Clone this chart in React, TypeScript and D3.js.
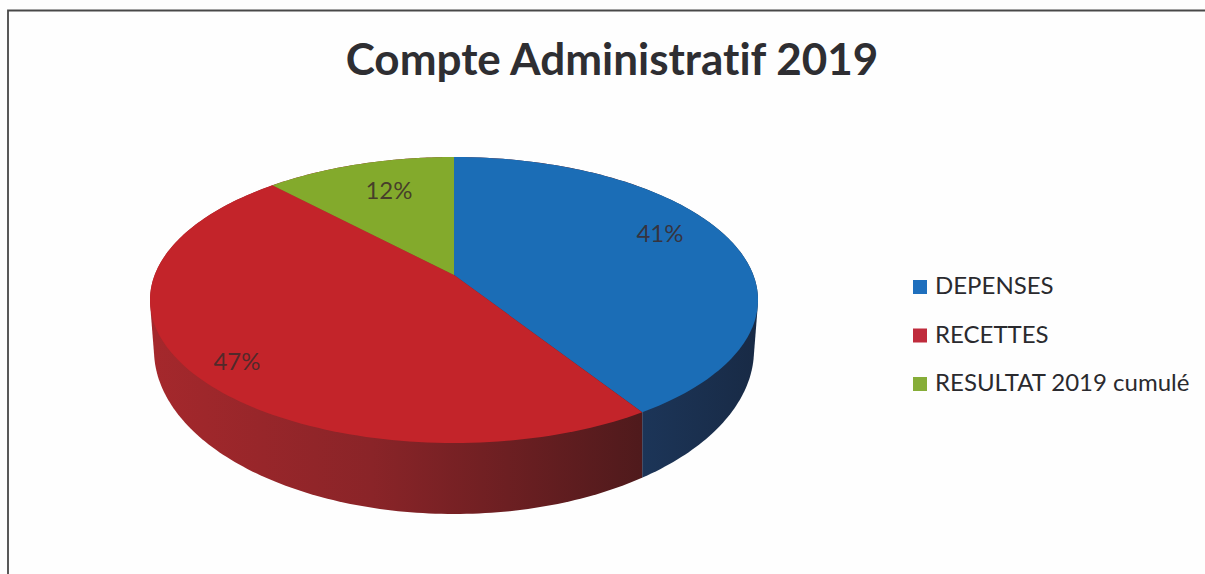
import React from "react";
import * as d3 from "d3";

const title = "Compte Administratif 2019";
const categories = ["DEPENSES", "RECETTES", "RESULTAT 2019 cumulé"];
const shares = [41, 47, 12];
const topColors = ["#1b6db6", "#c3242a", "#83aa2c"];
const legendColors = ["#1f6fbd", "#bf2b3c", "#86ad38"];
const blueSide = ["#1c3558", "#182a45"];
const redSide = ["#a5282c", "#8a2428", "#4f1a1c"];
const labelCentres: [number, number][] = [[660, 232], [237, 360], [389, 189]];

const W = 1205;
const H = 574;
const K = -0.175;
const TILT = 1 - K * K;

// Perspective circle: ellipse centre, radii → projected point for a pie angle
function projector(cx: number, cy: number, rx: number, ry: number) {
  const a = rx * Math.sqrt(TILT);
  const b = ry * TILT;
  const apexY = cy - (-b * K) / TILT;
  return (theta: number): [number, number] => {
    const u = Math.sin(theta);
    const v = -Math.cos(theta);
    const w = 1 + K * v;
    return [cx + (a * u) / w, apexY + (b * v) / w];
  };
}

const topRim = projector(454, 300, 304, 143);
const bottomRim = projector(454, 350, 300, 164);
const TAU = Math.PI * 2;
const line = d3.line();

export default function App() {
  const arcs = d3.pie<number>().sort(null).value((d) => d)(shares);
  const centre: [number, number] = [454, 275];
  const sweep = (t0: number, t1: number) => d3.range(0, 121).map((i) => topRim(t0 + ((t1 - t0) * i) / 120));

  const circlePts = d3.range(0, 360).map((d) => (d / 360) * TAU);
  const hull = d3.polygonHull([...circlePts.map(topRim), ...circlePts.map(bottomRim)]) as [number, number][];
  const hullPath = line(hull) + "Z";
  const edgeX = topRim(arcs[0].endAngle)[0];

  const fontFamily = "Lato, 'Open Sans', sans-serif";
  return (
    <svg width={W} height={H} viewBox={`0 0 ${W} ${H}`} style={{ position: "absolute", left: 0, top: 0, background: "#fefefe", fontVariantLigatures: "none" }}>
      <defs>
        <linearGradient id="side0" gradientUnits="userSpaceOnUse" x1={edgeX} x2={758} y1={0} y2={0}>
          <stop offset="0" stopColor={blueSide[0]} />
          <stop offset="1" stopColor={blueSide[1]} />
        </linearGradient>
        <linearGradient id="side1" gradientUnits="userSpaceOnUse" x1={150} x2={edgeX} y1={0} y2={0}>
          <stop offset="0" stopColor={redSide[0]} />
          <stop offset="0.45" stopColor={redSide[1]} />
          <stop offset="1" stopColor={redSide[2]} />
        </linearGradient>
        <clipPath id="clip0"><rect x={edgeX} y={0} width={W - edgeX} height={H} /></clipPath>
        <clipPath id="clip1"><rect x={0} y={0} width={edgeX} height={H} /></clipPath>
      </defs>

      <path d={`M8 ${H}V10.5H${W}`} fill="none" stroke="#484848" strokeWidth={1.8} />

      <text x={612} y={75} textAnchor="middle" fontFamily={fontFamily} fontWeight={700} fontSize={44} fill="#2e2e32">{title}</text>

      <path d={hullPath} fill="url(#side0)" clipPath="url(#clip0)" />
      <path d={hullPath} fill="url(#side1)" clipPath="url(#clip1)" />

      {arcs.map((a, i) => (
        <path key={categories[i]} d={line([centre, ...sweep(a.startAngle, a.endAngle)]) + "Z"} fill={topColors[i]} />
      ))}

      {arcs.map((a, i) => (
        <text key={i} x={labelCentres[i][0]} y={labelCentres[i][1]} textAnchor="middle" dominantBaseline="central" fontFamily={fontFamily} fontSize={24} fill="#3c2a2a" fillOpacity={0.85}>
          {a.value}%
        </text>
      ))}

      {categories.map((c, i) => {
        const y = 294 + i * 48.5;
        return (
          <g key={c}>
            <rect x={913} y={y - 14} width={14} height={14} fill={legendColors[i]} />
            <text x={935} y={y} fontFamily={fontFamily} fontSize={24} fill="#2a2a2e">{c}</text>
          </g>
        );
      })}
    </svg>
  );
}
